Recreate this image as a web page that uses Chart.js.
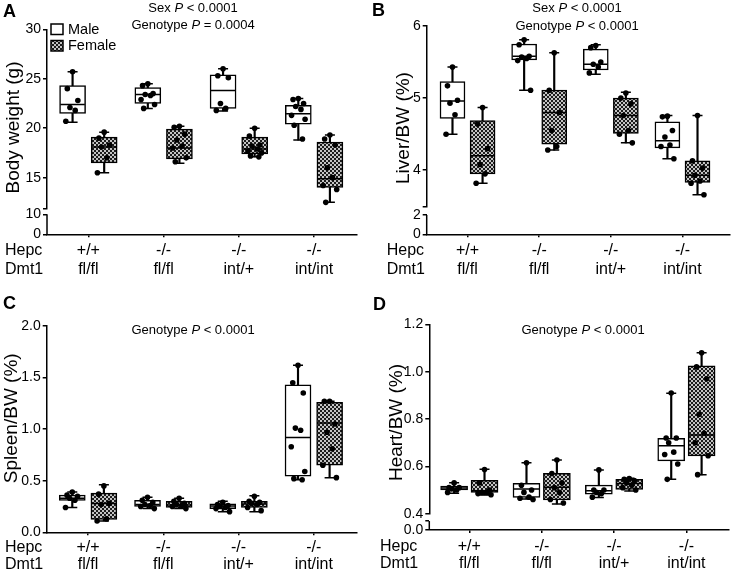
<!DOCTYPE html>
<html>
<head>
<meta charset="utf-8">
<script src="https://cdn.jsdelivr.net/npm/chart.js@4.4.1/dist/chart.umd.min.js"></script>
<style>
  body { margin: 0; background: #fff; }
  #fig { position: relative; width: 743px; height: 572px; font-family: 'Liberation Sans', Arial, sans-serif; color: #000; }
  #fig canvas { position: absolute; }
  .letter { position: absolute; font-weight: bold; font-size: 18px; line-height: 18px; }
  .note { position: absolute; font-size: 13px; line-height: 17px; text-align: center; white-space: nowrap; transform: translateX(-50%); }
</style>
</head>
<body>
<div id="fig">
  <canvas id="chartA" width="371" height="286" style="left:0;top:0"></canvas>
  <canvas id="chartB" width="372" height="286" style="left:371px;top:0"></canvas>
  <canvas id="chartC" width="371" height="286" style="left:0;top:286px"></canvas>
  <canvas id="chartD" width="372" height="286" style="left:371px;top:286px"></canvas>

  <div class="letter" style="left:3px;top:2px">A</div>
  <div class="letter" style="left:372px;top:1px">B</div>
  <div class="letter" style="left:3px;top:294px">C</div>
  <div class="letter" style="left:373px;top:295px">D</div>

  <div class="note" style="left:193px;top:-1px">Sex <i>P</i> &lt; 0.0001<br>Genotype <i>P</i> = 0.0004</div>
  <div class="note" style="left:577px;top:-1px;line-height:17.7px">Sex <i>P</i> &lt; 0.0001<br>Genotype <i>P</i> &lt; 0.0001</div>
  <div class="note" style="left:193px;top:321px">Genotype <i>P</i> &lt; 0.0001</div>
  <div class="note" style="left:583px;top:321px">Genotype <i>P</i> &lt; 0.0001</div>
</div>

<script>
// genotype labels under each group
const hepc = ['+/+', '-/-', '-/-', '-/-'];
const dmt1 = ['fl/fl', 'fl/fl', 'int/+', 'int/int'];
const sexes = ['Male', 'Female'];

// box stats per group: [min, q1, median, q3, max]
// A - body weight (g)
const bwMaleBox = [[20.6, 21.5, 22.4, 24.3, 25.7], [22.0, 22.5, 23.4, 24.1, 24.5], [21.75, 22.0, 23.8, 25.4, 26.0], [18.8, 20.4, 21.45, 22.3, 23.0]];
const bwFemaleBox = [[15.5, 16.5, 18.1, 19.1, 19.6], [16.45, 16.9, 18.0, 19.9, 20.2], [17.1, 17.4, 17.9, 19.1, 20.0], [12.5, 14.0, 14.9, 18.6, 19.3]];
const bwMalePts = [[25.7, 24.0, 22.8, 22.1, 21.8, 20.7], [24.5, 24.3, 23.5, 23.4, 23.3, 22.9, 22.4, 22.0], [26.0, 25.3, 25.1, 22.5, 22.0, 21.8], [23.0, 22.9, 22.5, 22.2, 21.9, 21.3, 20.9, 20.3, 18.9]];
const bwFemalePts = [[19.6, 19.0, 18.3, 18.1, 17.0, 15.5], [20.2, 20.1, 19.4, 18.8, 18.2, 18.0, 17.0, 16.6], [20.0, 19.2, 18.3, 18.2, 17.9, 17.7, 17.5, 17.2, 17.1], [19.3, 18.9, 18.3, 16.0, 15.0, 14.2, 13.8, 12.5]];

// B - liver / BW (%)
const lvMaleBox = [[4.50, 4.72, 4.96, 5.23, 5.43], [5.11, 5.53, 5.58, 5.75, 5.81], [5.33, 5.39, 5.47, 5.68, 5.74], [4.16, 4.31, 4.41, 4.67, 4.76]];
const lvFemaleBox = [[3.82, 3.95, 4.20, 4.69, 4.87], [4.28, 4.36, 4.80, 5.11, 5.63], [4.38, 4.51, 4.76, 5.00, 5.08], [3.66, 3.83, 3.93, 4.13, 4.76]];
const lvMalePts = [[5.43, 5.17, 4.97, 4.93, 4.77, 4.50], [5.81, 5.74, 5.58, 5.57, 5.55, 5.52, 5.11], [5.73, 5.70, 5.50, 5.47, 5.43, 5.35], [4.75, 4.74, 4.55, 4.46, 4.35, 4.33, 4.16]];
const lvFemalePts = [[4.87, 4.64, 4.30, 4.08, 3.95, 3.82], [5.63, 5.11, 4.80, 4.55, 4.33, 4.28], [5.07, 5.00, 4.92, 4.76, 4.55, 4.50, 4.38], [4.76, 4.13, 4.03, 3.93, 3.85, 3.82, 3.66]];

// C - spleen / BW (%)
const spMaleBox = [[0.24, 0.31, 0.33, 0.36, 0.39], [0.23, 0.25, 0.27, 0.31, 0.34], [0.20, 0.23, 0.255, 0.275, 0.30], [0.51, 0.545, 0.92, 1.43, 1.62]];
const spFemaleBox = [[0.11, 0.126, 0.28, 0.38, 0.46], [0.23, 0.24, 0.265, 0.30, 0.33], [0.20, 0.24, 0.275, 0.30, 0.355], [0.53, 0.65, 1.06, 1.26, 1.27]];
const spMalePts = [[0.39, 0.36, 0.35, 0.33, 0.31, 0.24], [0.34, 0.31, 0.29, 0.27, 0.26, 0.25, 0.23], [0.29, 0.27, 0.26, 0.25, 0.24, 0.23, 0.20], [1.62, 1.45, 1.35, 1.01, 0.99, 0.83, 0.59, 0.52, 0.51]];
const spFemalePts = [[0.45, 0.37, 0.28, 0.27, 0.13, 0.11], [0.33, 0.30, 0.28, 0.27, 0.26, 0.25, 0.23], [0.35, 0.30, 0.29, 0.28, 0.27, 0.24, 0.21], [1.27, 1.27, 1.05, 0.97, 0.81, 0.65, 0.53]];

// D - heart / BW (%)
const htMaleBox = [[0.486, 0.50, 0.509, 0.517, 0.531], [0.462, 0.469, 0.504, 0.528, 0.615], [0.468, 0.483, 0.497, 0.521, 0.585], [0.545, 0.623, 0.687, 0.718, 0.909]];
const htFemaleBox = [[0.479, 0.49, 0.497, 0.541, 0.588], [0.441, 0.458, 0.512, 0.571, 0.627], [0.496, 0.503, 0.528, 0.545, 0.55], [0.564, 0.644, 0.732, 1.025, 1.08]];
const htMalePts = [[0.53, 0.51, 0.51, 0.505, 0.50, 0.49], [0.615, 0.52, 0.50, 0.49, 0.47, 0.465, 0.46], [0.585, 0.50, 0.50, 0.49, 0.485, 0.47], [0.91, 0.72, 0.72, 0.70, 0.66, 0.65, 0.61, 0.545]];
const htFemalePts = [[0.587, 0.53, 0.50, 0.49, 0.49, 0.485, 0.48], [0.627, 0.57, 0.53, 0.51, 0.49, 0.46, 0.445], [0.548, 0.545, 0.54, 0.53, 0.52, 0.51, 0.50], [1.08, 1.02, 0.97, 0.82, 0.74, 0.70, 0.645, 0.565]];

// y tick values
const bwTicks = [11.9, 15, 20, 25, 30];
const lvTicks = [3.5, 4, 5, 6];
const spTicks = [0, 0.5, 1, 1.5, 2];
const htTicks = [0.4, 0.6, 0.8, 1.0, 1.2];

// horizontal spread of the dots inside a box (x units)
const jitter = [0, -0.07, 0.07, -0.035, 0.035, -0.09, 0.09, -0.055, 0.055];

const FONT = "'Liberation Sans', Arial, sans-serif";
Chart.defaults.font.family = FONT;
Chart.defaults.color = '#000';

function checker() {
  const c = document.createElement('canvas');
  c.width = 4; c.height = 4;
  const g = c.getContext('2d');
  g.fillStyle = '#c4c4c4'; g.fillRect(0, 0, 4, 4);
  g.fillStyle = '#1c1c1c'; g.fillRect(0, 0, 2, 2); g.fillRect(2, 2, 2, 2);
  return g.createPattern(c, 'repeat');
}
const pattern = checker();

function decor(p) {
  return {
    id: 'decor',
    afterDraw(chart) {
      const ctx = chart.ctx;
      ctx.save();
      // lower piece of the broken y axis
      if (p.low) {
        const s = chart.scales.yLow;
        ctx.strokeStyle = '#000';
        ctx.lineWidth = 1.5;
        ctx.beginPath();
        ctx.moveTo(s.right, s.getPixelForValue(0));
        ctx.lineTo(s.right, s.getPixelForValue(p.low.ticks[p.low.ticks.length - 1]));
        ctx.stroke();
      }
      // y axis title
      ctx.fillStyle = '#000';
      ctx.font = '19px ' + FONT;
      ctx.textAlign = 'center';
      ctx.textBaseline = 'middle';
      ctx.translate(p.titleX, p.titleY);
      ctx.rotate(-Math.PI / 2);
      ctx.fillText(p.title, 0, 0);
      ctx.restore();

      // row names of the genotype labels
      ctx.save();
      ctx.fillStyle = '#000';
      ctx.font = '16px ' + FONT;
      ctx.textAlign = 'left';
      ctx.textBaseline = 'middle';
      const y1 = chart.scales.x.top + 3 + p.pad + p.lh / 2;
      ctx.fillText('Hepc', p.rowX, y1);
      ctx.fillText('Dmt1', p.rowX, y1 + p.lh);

      if (p.legend) {
        ctx.lineWidth = 1.5;
        ctx.strokeStyle = '#000';
        ctx.fillStyle = '#fff';
        ctx.fillRect(51, 24, 12, 10.5);
        ctx.strokeRect(51, 24, 12, 10.5);
        ctx.fillStyle = pattern;
        ctx.fillRect(51, 40.5, 12, 10.5);
        ctx.strokeRect(51, 40.5, 12, 10.5);
        ctx.fillStyle = '#000';
        ctx.font = '14.5px ' + FONT;
        ctx.fillText(sexes[0], 68, 29.5);
        ctx.fillText(sexes[1], 68, 46);
      }
      ctx.restore();
    }
  };
}

function panel(id, p) {
  const off = 0.21;
  const boxes = (box, o) => box.map((b, i) => ({ x: i + 1 + o, y: [b[1], b[3]] }));
  const whiskers = (box, o) => box.map((b, i) => ({ x: i + 1 + o, y: [b[0], b[4]] }));
  const caps = (box, o) => box.flatMap((b, i) => [{ x: i + 1 + o, y: b[0] }, { x: i + 1 + o, y: b[4] }]);
  const medians = (box, o) => box.map((b, i) => ({ x: i + 1 + o, y: b[2] }));
  const dots = (pts, o) => pts.flatMap((g, i) => g.map((v, j) => ({ x: i + 1 + o + jitter[j % jitter.length], y: v })));

  const boxStyle = { type: 'bar', grouped: false, barThickness: p.boxW, borderWidth: 1.5, borderColor: '#000', borderSkipped: false, order: 3 };
  const lineStyle = { type: 'scatter', pointStyle: 'line', pointBorderColor: '#000', pointBorderWidth: 1.5, order: 2 };

  const datasets = [
    { ...boxStyle, label: sexes[0], data: boxes(p.male, -off), backgroundColor: '#fff' },
    { ...boxStyle, label: sexes[1], data: boxes(p.female, off), backgroundColor: pattern },
    { type: 'bar', grouped: false, barThickness: 1.5, borderWidth: 0, backgroundColor: '#000', order: 4,
      data: whiskers(p.male, -off).concat(whiskers(p.female, off)) },
    { ...lineStyle, pointRadius: 5, data: caps(p.male, -off).concat(caps(p.female, off)) },
    { ...lineStyle, pointRadius: p.boxW / 2 - 0.75, data: medians(p.male, -off).concat(medians(p.female, off)) },
    { type: 'scatter', pointRadius: 2.8, pointBackgroundColor: '#000', pointBorderWidth: 0, order: 1,
      data: dots(p.maleDots, -off).concat(dots(p.femaleDots, off)) }
  ];

  const tickGrid = { drawOnChartArea: false, drawTicks: true, tickLength: 4, color: '#000', lineWidth: 1.5 };
  const axisBorder = { display: true, color: '#000', width: 1.5 };
  const yTickFont = { size: 14 };

  const scales = {
    x: {
      type: 'linear', min: p.xMin, max: p.xMax, offset: false,
      grid: { drawOnChartArea: false, drawTicks: true, tickLength: 3, color: '#000', lineWidth: 1.5, offset: false },
      border: axisBorder,
      afterBuildTicks: s => { s.ticks = [1, 2, 3, 4].map(v => ({ value: v })); },
      afterFit: s => { s.height = p.H - p.bottom; },
      ticks: { maxRotation: 0, autoSkip: false, padding: p.pad, font: { size: 16, lineHeight: p.lh + 'px' },
               callback: v => [hepc[v - 1], dmt1[v - 1]] }
    },
    y: {
      type: 'linear', position: 'left', min: p.yTicks[0], max: p.yTicks[p.yTicks.length - 1],
      grid: tickGrid, border: axisBorder,
      afterBuildTicks: s => { s.ticks = p.yTicks.map(v => ({ value: v })); },
      afterFit: s => { s.width = p.left; },
      ticks: { padding: 2, autoSkip: false, font: yTickFont, callback: v => p.yLabels[p.yTicks.indexOf(v)] }
    }
  };
  if (p.low) {
    Object.assign(scales.y, { stack: 'v', stackWeight: p.breakPx - p.top, weight: 1 });
    scales.yLow = {
      type: 'linear', position: 'left', stack: 'v', stackWeight: p.bottom - p.breakPx, weight: 0,
      min: 0, max: p.low.max,
      grid: tickGrid, border: { display: false },
      afterBuildTicks: s => { s.ticks = p.low.ticks.map(v => ({ value: v })); },
      afterFit: s => { s.width = p.left; },
      ticks: { padding: 2, autoSkip: false, font: yTickFont, callback: v => p.low.labels[p.low.ticks.indexOf(v)] }
    };
  }

  return new Chart(document.getElementById(id), {
    type: 'bar',
    data: { datasets },
    options: {
      responsive: false,
      animation: false,
      events: [],
      layout: { padding: { top: p.top, right: p.W - p.right, left: 0, bottom: 0 } },
      plugins: { legend: { display: false }, tooltip: { enabled: false } },
      scales
    },
    plugins: [decor(p)]
  });
}

panel('chartA', {
  male: bwMaleBox, female: bwFemaleBox, maleDots: bwMalePts, femaleDots: bwFemalePts,
  W: 371, H: 286, left: 47, right: 357, top: 29.3, bottom: 234.3, breakPx: 208.3,
  xMin: 0.45, xMax: 4.57, boxW: 26,
  yTicks: bwTicks, yLabels: ['', '15', '20', '25', '30'],
  low: { max: 13, ticks: [0, 10], labels: ['0', '10'] },
  title: 'Body weight (g)', titleX: 13.3, titleY: 127.5,
  rowX: 5, lh: 19, pad: 3.5, legend: true
});

panel('chartB', {
  male: lvMaleBox, female: lvFemaleBox, maleDots: lvMalePts, femaleDots: lvFemalePts,
  W: 372, H: 286, left: 55.7, right: 370.7, top: 26, bottom: 234.3, breakPx: 206.3,
  xMin: 0.43, xMax: 4.66, boxW: 25,
  yTicks: lvTicks, yLabels: ['', '4', '5', '6'],
  low: { max: 2.9, ticks: [0, 2], labels: ['0', '2'] },
  title: 'Liver/BW (%)', titleX: 32.3, titleY: 128,
  rowX: 15.7, lh: 19, pad: 3.5
});

panel('chartC', {
  male: spMaleBox, female: spFemaleBox, maleDots: spMalePts, femaleDots: spFemalePts,
  W: 371, H: 286, left: 46.7, right: 356.7, top: 40, bottom: 246.3,
  xMin: 0.45, xMax: 4.57, boxW: 26,
  yTicks: spTicks, yLabels: ['0.0', '0.5', '1.0', '1.5', '2.0'],
  title: 'Spleen/BW (%)', titleX: 11.7, titleY: 132.3,
  rowX: 5, lh: 17, pad: 3.5
});

panel('chartD', {
  male: htMaleBox, female: htFemaleBox, maleDots: htMalePts, femaleDots: htFemalePts,
  W: 372, H: 286, left: 58.3, right: 370.7, top: 38.3, bottom: 244, breakPx: 227.7,
  xMin: 0.447, xMax: 4.585, boxW: 27,
  yTicks: htTicks, yLabels: ['0.4', '0.6', '0.8', '1.0', '1.2'],
  low: { max: 1, ticks: [0, 0.55], labels: ['0.0', ''] },
  title: 'Heart/BW (%)', titleX: 25.7, titleY: 136.5,
  rowX: 9, lh: 17, pad: 5
});
</script>
</body>
</html>
